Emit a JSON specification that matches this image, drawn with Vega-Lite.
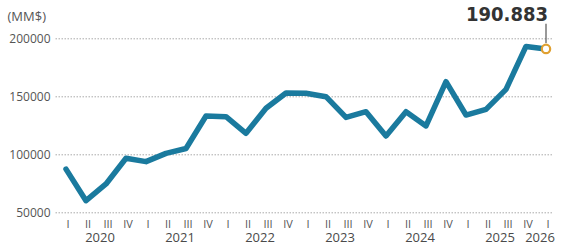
{
  "$schema": "https://vega.github.io/schema/vega-lite/v6.json",
  "autosize": {"type": "none"},
  "width": 498,
  "height": 174.4,
  "padding": {"left": 55, "top": 38.3, "right": 9, "bottom": 31.3},
  "background": "white",
  "config": {"view": {"stroke": null}, "font": "Open Sans"},
  "datasets": {
    "series": [
      {"idx": 0, "q": "I", "value": 87500},
      {"idx": 1, "q": "II", "value": 60300},
      {"idx": 2, "q": "III", "value": 74700},
      {"idx": 3, "q": "IV", "value": 96800},
      {"idx": 4, "q": "I", "value": 93900},
      {"idx": 5, "q": "II", "value": 101000},
      {"idx": 6, "q": "III", "value": 105200},
      {"idx": 7, "q": "IV", "value": 133200},
      {"idx": 8, "q": "I", "value": 132600},
      {"idx": 9, "q": "II", "value": 118300},
      {"idx": 10, "q": "III", "value": 139800},
      {"idx": 11, "q": "IV", "value": 153000},
      {"idx": 12, "q": "I", "value": 152800},
      {"idx": 13, "q": "II", "value": 149800},
      {"idx": 14, "q": "III", "value": 132000},
      {"idx": 15, "q": "IV", "value": 136900},
      {"idx": 16, "q": "I", "value": 116000},
      {"idx": 17, "q": "II", "value": 136900},
      {"idx": 18, "q": "III", "value": 124600},
      {"idx": 19, "q": "IV", "value": 162700},
      {"idx": 20, "q": "I", "value": 134000},
      {"idx": 21, "q": "II", "value": 138900},
      {"idx": 22, "q": "III", "value": 156100},
      {"idx": 23, "q": "IV", "value": 193000},
      {"idx": 24, "q": "I", "value": 190883}
    ],
    "years": [
      {"idx": 2, "year": "2020"},
      {"idx": 6, "year": "2021"},
      {"idx": 10, "year": "2022"},
      {"idx": 14, "year": "2023"},
      {"idx": 18, "year": "2024"},
      {"idx": 22, "year": "2025"},
      {"idx": 24, "year": "2026"}
    ],
    "annot": [
      {"idx": 24, "value": 190883, "top": 212500, "tickBottom": 196000, "label": "190.883"}
    ]
  },
  "layer": [
    {
      "data": {"name": "series"},
      "mark": {"type": "line", "color": "#1a7a9e", "strokeWidth": 5.5, "strokeJoin": "round", "strokeCap": "round"},
      "encoding": {
        "x": {
          "field": "idx", "type": "quantitative",
          "scale": {"domain": [-0.55, 24.35], "nice": false, "zero": false},
          "axis": null
        },
        "y": {
          "field": "value", "type": "quantitative",
          "scale": {"domain": [50000, 200000], "nice": false, "zero": false},
          "axis": {
            "values": [50000, 100000, 150000, 200000],
            "format": "d",
            "domain": false, "ticks": false,
            "labelFont": "Open Sans", "labelFontSize": 12, "labelColor": "#555", "labelPadding": 5,
            "grid": true, "gridColor": "#aaaaaa", "gridDash": [1.5, 1.5], "gridWidth": 1,
            "title": "(MM$)", "titleAngle": 0, "titleAlign": "left", "titleBaseline": "middle",
            "titleX": -48, "titleY": -22, "titleFont": "Open Sans", "titleFontSize": 13,
            "titleFontWeight": "normal", "titleColor": "#555"
          }
        }
      }
    },
    {
      "data": {"name": "series"},
      "mark": {"type": "text", "font": "Open Sans", "fontSize": 11, "color": "#555", "align": "center", "baseline": "middle", "dx": 2, "y": 186.5},
      "encoding": {
        "x": {"field": "idx", "type": "quantitative", "axis": null},
        "text": {"field": "q"}
      }
    },
    {
      "data": {"name": "annot"},
      "mark": {"type": "rule", "color": "#555", "strokeWidth": 1.2, "clip": false},
      "encoding": {
        "x": {"field": "idx", "type": "quantitative", "axis": null},
        "y": {"field": "tickBottom", "type": "quantitative"},
        "y2": {"field": "top"}
      }
    },
    {
      "data": {"name": "annot"},
      "mark": {"type": "point", "shape": "circle", "size": 70, "filled": true, "fill": "white", "stroke": "#e0a030", "strokeWidth": 2.2, "opacity": 1},
      "encoding": {
        "x": {"field": "idx", "type": "quantitative", "axis": null},
        "y": {"field": "value", "type": "quantitative"}
      }
    },
    {
      "data": {"name": "annot"},
      "mark": {"type": "text", "font": "DejaVu Sans Condensed", "fontWeight": "bold", "fontSize": 20, "color": "#333", "align": "right", "baseline": "bottom", "dx": 2, "dy": 1},
      "encoding": {
        "x": {"field": "idx", "type": "quantitative", "axis": null},
        "y": {"field": "top", "type": "quantitative"},
        "text": {"field": "label"}
      }
    },
    {
      "data": {"name": "years"},
      "mark": {"type": "text", "font": "Open Sans", "fontSize": 13, "color": "#4a4a4a", "align": "center", "baseline": "alphabetic", "dx": -6, "y": 203.5},
      "encoding": {
        "x": {"field": "idx", "type": "quantitative", "axis": null},
        "text": {"field": "year"}
      }
    }
  ]
}
